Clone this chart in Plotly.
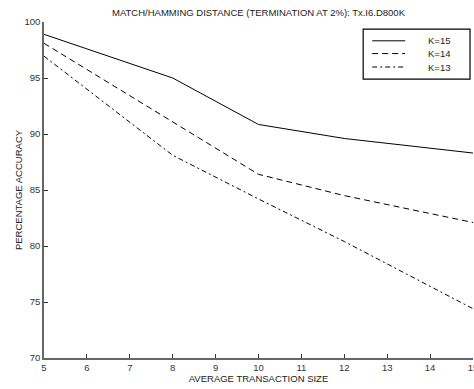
import plotly.graph_objects as go

x_vals = [5, 8, 10, 12, 15]
k15 = [98.9, 95.0, 90.85, 89.6, 88.3]
k14 = [98.1, 91.05, 86.4, 84.5, 82.1]
k13 = [96.95, 88.1, 84.2, 80.4, 74.4]
series_names = ["K=15", "K=14", "K=13"]
x_ticks = [5, 6, 7, 8, 9, 10, 11, 12, 13, 14, 15]
y_ticks = [70, 75, 80, 85, 90, 95, 100]

FONT = "Liberation Sans, Arial, sans-serif"
TXT = "#222"
dashes = ["solid", "6px,4px", "5px,3px,2px,3px"]

fig = go.Figure()
for name, ys, d in zip(series_names, [k15, k14, k13], dashes):
    fig.add_trace(go.Scatter(x=x_vals, y=ys, mode="lines", name=name,
                             showlegend=False,
                             line=dict(color="black", width=1, dash=d)))

# Legend drawn in paper coordinates (MATLAB-style box)
leg_rows_y = [0.944, 0.906, 0.866]
fig.add_shape(type="rect", xref="paper", yref="paper",
              x0=0.744, x1=0.993, y0=0.830, y1=0.979,
              line=dict(color="black", width=1.2), fillcolor="white", layer="above")
for name, d, yy in zip(series_names, dashes, leg_rows_y):
    fig.add_shape(type="line", xref="paper", yref="paper",
                  x0=0.765, x1=0.842, y0=yy, y1=yy,
                  line=dict(color="black", width=1, dash=d), layer="above")
    fig.add_annotation(text=name, xref="paper", yref="paper", x=0.890, y=yy,
                       xanchor="left", yanchor="middle", showarrow=False,
                       font=dict(size=9.5, color=TXT, family=FONT))

axis_common = dict(showgrid=False, zeroline=False, showline=True,
                   linecolor="#666", linewidth=1.5, ticks="inside",
                   ticklen=4, tickcolor="#333", tickwidth=1,
                   tickfont=dict(size=9.5, color="#333", family=FONT),
                   ticklabeloverflow="allow", automargin=False, mirror=False)

fig.update_layout(
    width=474, height=389,
    margin=dict(l=44, r=1, t=22, b=31, autoexpand=False),
    paper_bgcolor="white", plot_bgcolor="white",
    font=dict(family=FONT, size=9.5, color=TXT),
    title=dict(text="MATCH/HAMMING DISTANCE (TERMINATION AT 2%): Tx.I6.D800K",
               x=0.5, xref="paper", xanchor="center", y=0.968, yanchor="middle",
               font=dict(size=9.5, color=TXT, family=FONT)),
    xaxis=dict(range=[5, 15], tickvals=x_ticks, **axis_common,
               title=dict(text="AVERAGE TRANSACTION SIZE", standoff=0,
                          font=dict(size=9.5, color=TXT, family=FONT))),
    yaxis=dict(range=[70, 100], tickvals=y_ticks, **axis_common,
               title=dict(text="PERCENTAGE ACCURACY", standoff=0,
                          font=dict(size=9.5, color=TXT, family=FONT))),
    showlegend=False,
)

fig.write_html("out.html")
